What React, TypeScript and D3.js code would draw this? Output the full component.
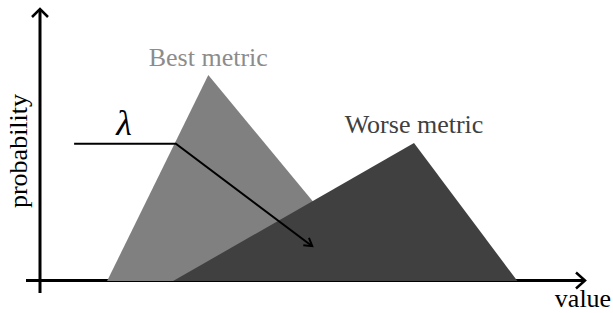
import React from "react";
import * as d3 from "d3";

// data (arbitrary "value" units vs probability)
const bestX = [12.2, 30.6, 61.6];
const bestY = [0, 0.757, 0];
const worseX = [24.2, 68.0, 86.8];
const worseY = [0, 0.507, 0];
const lambdaX = [6.2, 24.7, 49.5];
const lambdaY = [0.505, 0.505, 0.128];
const labels = ["Best metric", "Worse metric", "probability", "value", "λ"];

const W = 613;
const H = 313;

export default function App() {
  const x = d3.scaleLinear().domain([0, 100]).range([40, 590]);
  const y = d3.scaleLinear().domain([0, 1]).range([281, 9]);
  const line = d3
    .line<[number, number]>()
    .x((d) => x(d[0]))
    .y((d) => y(d[1]));
  const best = bestX.map((v, i) => [v, bestY[i]] as [number, number]);
  const worse = worseX.map((v, i) => [v, worseY[i]] as [number, number]);
  const lam = lambdaX.map((v, i) => [v, lambdaY[i]] as [number, number]);

  // arrow head at end of lambda line
  const p1 = lam[1];
  const p2 = lam[2];
  const ex = x(p2[0]);
  const ey = y(p2[1]);
  const ang = Math.atan2(ey - y(p1[1]), ex - x(p1[0]));
  const ah = 9;
  const spread = 0.55;
  const head = `M${ex - ah * Math.cos(ang - spread)},${ey - ah * Math.sin(ang - spread)} L${ex},${ey} L${ex - ah * Math.cos(ang + spread)},${ey - ah * Math.sin(ang + spread)}`;

  const font = "'Liberation Serif', 'Times New Roman', serif";
  const axY = 280.5;
  const axX = 40;
  return (
    <svg
      width={W}
      height={H}
      style={{ position: "absolute", left: 0, top: 0, background: "#fff" }}
    >
      {/* axes */}
      <line x1={26} y1={axY} x2={584} y2={axY} stroke="#000" strokeWidth={3} />
      <path d={`M576,${axY - 8} L585,${axY} L576,${axY + 8}`} fill="none" stroke="#000" strokeWidth={2.5} />
      <line x1={axX} y1={293} x2={axX} y2={10} stroke="#000" strokeWidth={3} />
      <path d={`M${axX - 8},17 L${axX},9 L${axX + 8},17`} fill="none" stroke="#000" strokeWidth={2.5} />

      {/* distributions */}
      <path d={line(best) + "Z"} fill="#808080" />
      <path d={line(worse) + "Z"} fill="#404040" />

      {/* lambda arrow */}
      <path d={line(lam) ?? ""} fill="none" stroke="#000" strokeWidth={2} />
      <path d={head} fill="none" stroke="#000" strokeWidth={2} />

      <text x={x(bestX[1])} y={66} textAnchor="middle" fontFamily={font} fontSize={26} fill="#8c8c8c">
        {labels[0]}
      </text>
      <text x={414} y={133} textAnchor="middle" fontFamily={font} fontSize={26} fill="#404040">
        {labels[1]}
      </text>
      <text
        transform="translate(27,151) rotate(-90)"
        textAnchor="middle"
        fontFamily={font}
        fontSize={26}
        fill="#000"
      >
        {labels[2]}
      </text>
      <text x={583} y={307} textAnchor="middle" fontFamily={font} fontSize={26} fill="#000">
        {labels[3]}
      </text>
      <text x={124} y={135} textAnchor="middle" fontFamily={font} fontSize={36} fontStyle="italic" fill="#000">
        {labels[4]}
      </text>
    </svg>
  );
}
